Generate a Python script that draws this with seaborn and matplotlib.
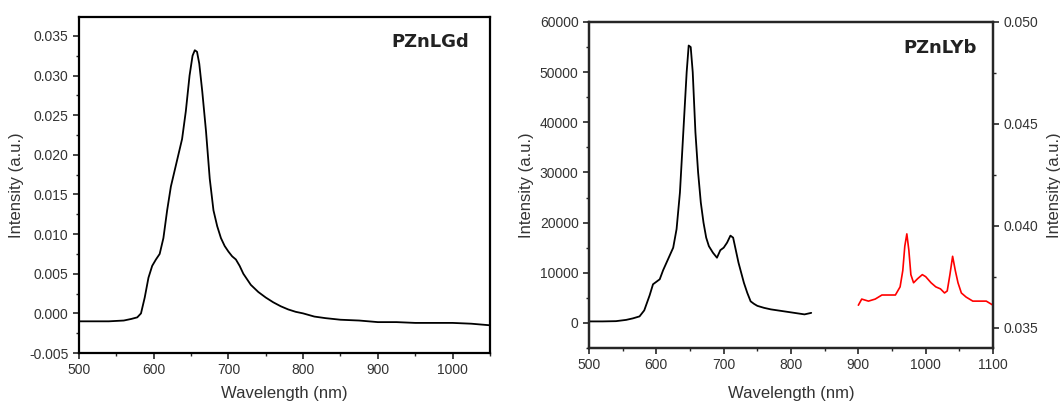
import matplotlib
matplotlib.use("Agg")
import seaborn as sns
from matplotlib import pyplot as plt
from matplotlib.ticker import AutoMinorLocator, MultipleLocator

# PZnLGd emission spectrum (left panel)
gd_wavelength = [500, 520, 540, 560, 570, 578, 583, 588, 593, 598, 603, 608, 613, 618, 623, 628, 633,
                 638, 643, 648, 652, 655, 658, 661, 665, 670, 675, 680, 685, 690, 695, 700, 705, 710,
                 715, 720, 730, 740, 750, 760, 770, 780, 790, 800, 815, 830, 850, 875, 900, 925, 950,
                 975, 1000, 1025, 1050]
gd_intensity = [-0.0010, -0.0010, -0.0010, -0.0009, -0.0007, -0.0005, 0.0000, 0.0020, 0.0045, 0.0060,
                0.0068, 0.0075, 0.0095, 0.0130, 0.0160, 0.0180, 0.0200, 0.0220, 0.0255, 0.0300, 0.0325,
                0.0332, 0.0330, 0.0315, 0.0280, 0.0230, 0.0170, 0.0130, 0.0110, 0.0095, 0.0085, 0.0078,
                0.0072, 0.0068, 0.0060, 0.0050, 0.0036, 0.0027, 0.0020, 0.0014, 0.0009, 0.0005, 0.0002,
                0.0000, -0.0004, -0.0006, -0.0008, -0.0009, -0.0011, -0.0011, -0.0012, -0.0012, -0.0012,
                -0.0013, -0.0015]

# PZnLYb visible emission (left axis)
yb_vis_wavelength = [500, 520, 540, 555, 565, 575, 582, 590, 595, 600, 605, 610, 615, 620, 625, 630,
                     635, 640, 645, 648, 651, 654, 658, 662, 666, 670, 674, 678, 684, 690, 695, 700,
                     705, 710, 714, 718, 722, 726, 730, 735, 740, 745, 750, 760, 770, 780, 790, 800,
                     810, 820, 830]
yb_vis_intensity = [300, 300, 350, 600, 900, 1300, 2500, 5500, 7700, 8200, 8700, 10500, 12000, 13500,
                    15000, 18700, 26000, 38000, 50000, 55300, 55000, 50000, 38000, 30000, 24000, 20000,
                    17000, 15300, 14000, 13000, 14500, 15000, 16000, 17400, 17000, 14500, 12000, 10000,
                    8000, 6000, 4300, 3800, 3400, 3000, 2700, 2500, 2300, 2100, 1900, 1700, 2000]

# PZnLYb NIR emission (right axis)
yb_nir_wavelength = [900, 905, 915, 925, 935, 945, 955, 962, 966, 969, 972, 975, 978, 982, 988, 995,
                     1000, 1008, 1015, 1022, 1028, 1032, 1036, 1040, 1044, 1048, 1053, 1060, 1070,
                     1080, 1090, 1100]
yb_nir_intensity = [0.0361, 0.0364, 0.0363, 0.0364, 0.0366, 0.0366, 0.0366, 0.0370, 0.0378, 0.0390,
                    0.0396, 0.0388, 0.0376, 0.0372, 0.0374, 0.0376, 0.0375, 0.0372, 0.0370, 0.0369,
                    0.0367, 0.0368, 0.0376, 0.0385, 0.0378, 0.0372, 0.0367, 0.0365, 0.0363, 0.0363,
                    0.0363, 0.0361]

sns.set_style("ticks")
plt.rcParams["font.family"] = ["Liberation Sans", "DejaVu Sans"]
plt.rcParams["xtick.direction"] = "out"
plt.rcParams["ytick.direction"] = "out"

text_color = "#333333"

fig = plt.figure(figsize=(10.6, 4.03), dpi=100)
ax_gd = fig.add_axes([0.0745, 0.124, 0.3877, 0.834])
ax_yb = fig.add_axes([0.5557, 0.1365, 0.3811, 0.809])


def style_axes(ax, xpad):
    for spine in ax.spines.values():
        spine.set_visible(True)
        spine.set_linewidth(1.6)
        spine.set_color("black")
    ax.tick_params(which="major", length=4, width=1.2, labelsize=10, labelcolor=text_color)
    ax.tick_params(which="minor", length=2.5, width=1.0)
    ax.xaxis.set_minor_locator(AutoMinorLocator(2))
    ax.yaxis.set_minor_locator(AutoMinorLocator(2))
    ax.set_xlabel("Wavelength (nm)", fontsize=12, color=text_color, labelpad=xpad)
    ax.set_ylabel("Intensity (a.u.)", fontsize=12, color=text_color, labelpad=4)


# left panel
sns.lineplot(x=gd_wavelength, y=gd_intensity, ax=ax_gd, color="black", linewidth=1.3)
ax_gd.set_xlim(500, 1050)
ax_gd.set_ylim(-0.005, 0.0374)
ax_gd.xaxis.set_major_locator(MultipleLocator(100))
ax_gd.yaxis.set_major_locator(MultipleLocator(0.005))
ax_gd.yaxis.set_major_formatter(plt.FuncFormatter(lambda v, p: f"{v:.3f}"))
style_axes(ax_gd, 6)
ax_gd.text(0.95, 0.925, "PZnLGd", transform=ax_gd.transAxes, ha="right", va="center",
           fontsize=13, fontweight="bold", family=["DejaVu Sans"], color="#222222")

# right panel
sns.lineplot(x=yb_vis_wavelength, y=yb_vis_intensity, ax=ax_yb, color="black", linewidth=1.3)
ax_yb.set_xlim(500, 1100)
ax_yb.set_ylim(-5000, 60000)
ax_yb.xaxis.set_major_locator(MultipleLocator(100))
ax_yb.yaxis.set_major_locator(MultipleLocator(10000))
style_axes(ax_yb, 10)
ax_yb.text(0.96, 0.92, "PZnLYb", transform=ax_yb.transAxes, ha="right", va="center",
           fontsize=13, fontweight="bold", family=["DejaVu Sans"], color="#222222")

ax_nir = ax_yb.twinx()
sns.lineplot(x=yb_nir_wavelength, y=yb_nir_intensity, ax=ax_nir, color="red", linewidth=1.2)
ax_nir.set_ylim(0.034, 0.050)
ax_nir.yaxis.set_major_locator(MultipleLocator(0.005))
ax_nir.yaxis.set_minor_locator(AutoMinorLocator(2))
ax_nir.yaxis.set_major_formatter(plt.FuncFormatter(lambda v, p: f"{v:.3f}"))
ax_nir.tick_params(which="major", length=4, width=1.2, labelsize=10, labelcolor=text_color)
ax_nir.tick_params(which="minor", length=2.5, width=1.0)
ax_nir.set_ylabel("Intensity (a.u.)", fontsize=12, color=text_color, labelpad=6)
for spine in ax_nir.spines.values():
    spine.set_linewidth(1.6)

fig.savefig("out.png", dpi=100)
